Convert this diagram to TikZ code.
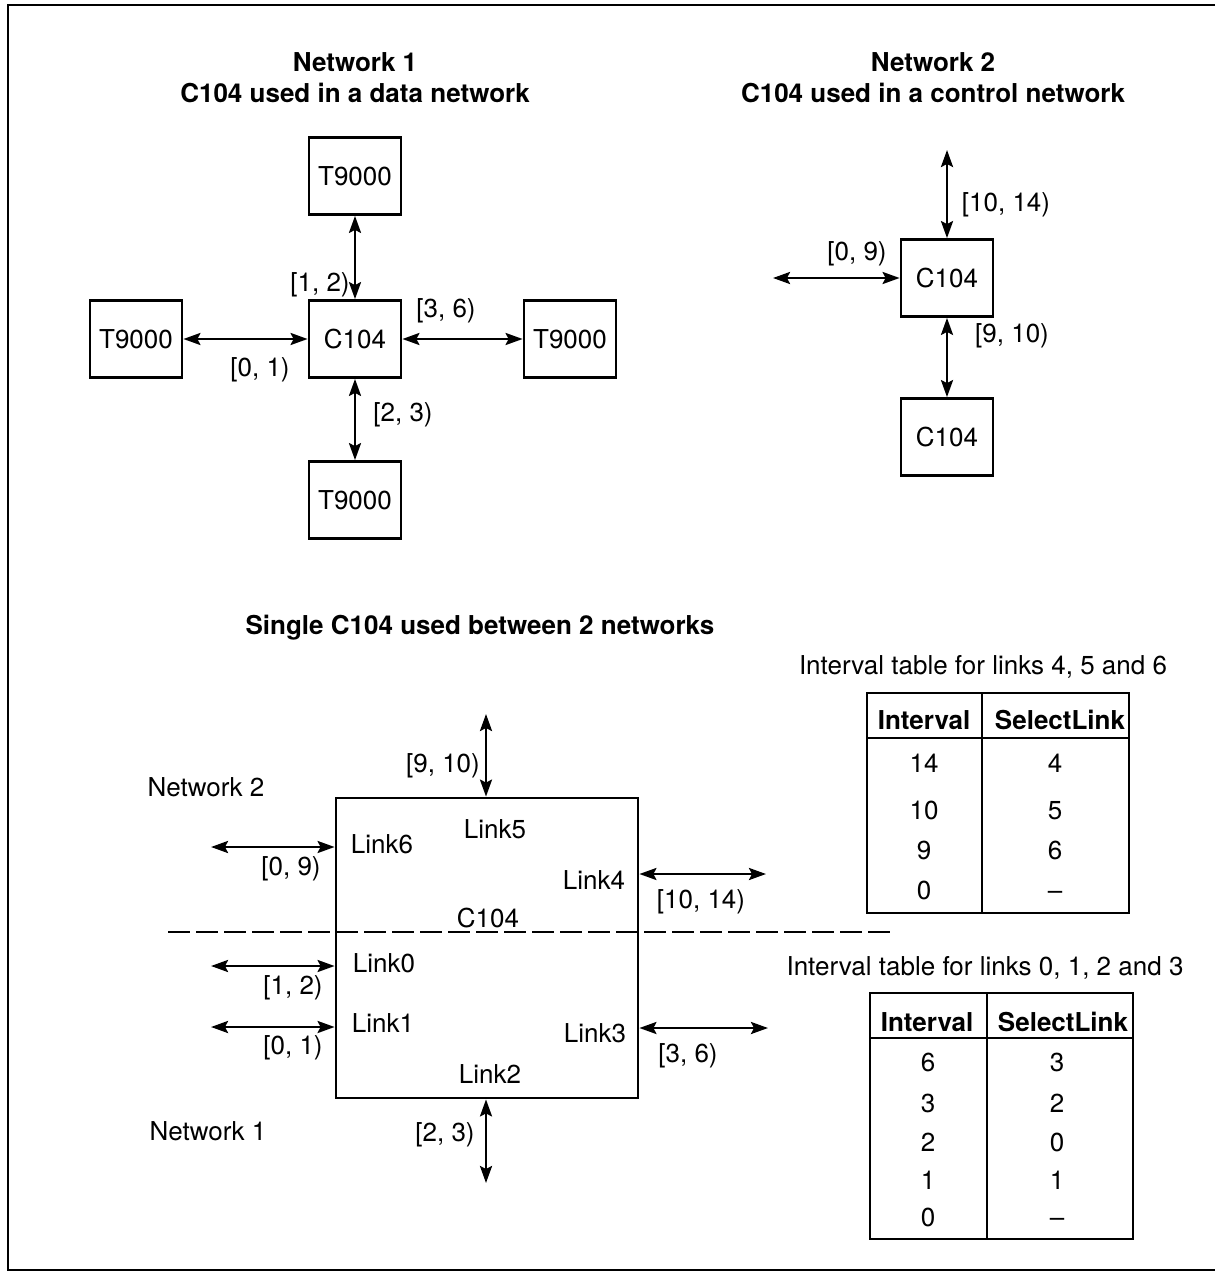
\documentclass[tikz,border=0pt]{standalone}
\usepackage{fontspec}
\setmainfont{TeX Gyre Heros}
\usetikzlibrary{arrows.meta,positioning}
\tikzset{
  unitbox/.style={draw, line width=2.8pt, minimum width=92pt, minimum height=77pt,
                  inner sep=0pt},
  link/.style={{Stealth[length=17pt,width=12pt,inset=3pt]}-{Stealth[length=17pt,width=12pt,inset=3pt]},
               line width=2.6pt},
  lbl/.style={inner sep=0pt},
  cell/.style={inner sep=0pt, text height=18.7pt, text depth=0pt},
  boldtxt/.style={font=\fontsize{26}{31}\selectfont\bfseries},
  ttl/.style={inner sep=0pt, boldtxt, align=center},
  tabrule/.style={line width=2.8pt}
}

\begin{document}
\begin{tikzpicture}[x=1pt,y=-1pt,font=\fontsize{26}{31}\selectfont]
  \useasboundingbox (0,0) rectangle (1215,1276);
  \draw[line width=2.8pt] (1215,5) -- (8,5) -- (8,1270) -- (1215,1270);

  % Network 1
  \node[ttl] (t1) at (355,78) {Network 1\\C104 used in a data network};
  \node[unitbox] (n1c) at (355,339) {C104};
  \node[unitbox] (n1n) at (355,176) {T9000};
  \node[unitbox] (n1s) at (355,500) {T9000};
  \node[unitbox] (n1w) at (136,339) {T9000};
  \node[unitbox] (n1e) at (570,339) {T9000};
  \draw[link] (n1n) -- (n1c);
  \draw[link] (n1c) -- (n1s);
  \draw[link] (n1w) -- (n1c);
  \draw[link] (n1c) -- (n1e);
  \node[lbl] (i12) at (320,285) {[1, 2)};
  \node[lbl] (i36) at (446,311) {[3, 6)};
  \node[lbl] (i01) at (260,370) {[0, 1)};
  \node[lbl] (i23) at (403,415) {[2, 3)};

  % Network 2
  \node[ttl] (t2) at (933,78) {Network 2\\C104 used in a control network};
  \node[unitbox] (n2a) at (947,278) {C104};
  \node[unitbox] (n2b) at (947,437) {C104};
  \coordinate (n2up) at (947,150);
  \coordinate (n2lt) at (773,278);
  \draw[link] (n2up) -- (n2a);
  \draw[link] (n2lt) -- (n2a);
  \draw[link] (n2a) -- (n2b);
  \node[lbl] (j1014) at (1006,205) {[10, 14)};
  \node[lbl] (j09) at (857,254) {[0, 9)};
  \node[lbl] (j910) at (1012,336) {[9, 10)};

  % single C104 between the two networks
  \node[ttl] (t3) at (480,628) {Single C104 used between 2 networks};
  \node[draw, line width=2.8pt, minimum width=302pt, minimum height=300pt,
        inner sep=0pt] (big) at (487,948) {};
  \draw[line width=2.6pt, dash pattern=on 22pt off 6pt] (168,932) -- (890,932);
  \node[lbl] (bc) at (488,918) {C104};
  \node[lbl] (net2) at (206,787) {Network 2};
  \node[lbl] (net1) at (208,1131) {Network 1};

  \coordinate (a6) at (211,847);
  \coordinate (a0) at (211,966);
  \coordinate (a1) at (211,1027);
  \coordinate (a4) at (766,874);
  \coordinate (a3) at (768,1028);
  \coordinate (a5) at (486,714);
  \coordinate (a2) at (486,1183);
  \draw[link] (a6) -- (a6 -| big.west);
  \draw[link] (a0) -- (a0 -| big.west);
  \draw[link] (a1) -- (a1 -| big.west);
  \draw[link] (a4 -| big.east) -- (a4);
  \draw[link] (a3 -| big.east) -- (a3);
  \draw[link] (a5) -- (a5 |- big.north);
  \draw[link] (a2 |- big.south) -- (a2);

  \node[lbl] (k6) at (382,844) {Link6};
  \node[lbl] (k5) at (495,829) {Link5};
  \node[lbl] (k4) at (594,880) {Link4};
  \node[lbl] (k0) at (384,963) {Link0};
  \node[lbl] (k1) at (383,1023) {Link1};
  \node[lbl] (k3) at (595,1033) {Link3};
  \node[lbl] (k2) at (490,1074) {Link2};

  \node[lbl] (b910) at (443,766) {[9, 10)};
  \node[lbl] (b09) at (291,869) {[0, 9)};
  \node[lbl] (b1014) at (701,902) {[10, 14)};
  \node[lbl] (b12) at (293,988) {[1, 2)};
  \node[lbl] (b01) at (293,1048) {[0, 1)};
  \node[lbl] (b36) at (688,1056) {[3, 6)};
  \node[lbl] (b23) at (445,1135) {[2, 3)};

  % interval table, links 4 5 6
  \node[lbl] (tta) at (983,667) {Interval table for links 4, 5 and 6};
  \draw[tabrule] (867,693) rectangle (1129,913);
  \draw[tabrule] (982,693) -- (982,913);
  \draw[tabrule] (867,738) -- (1129,738);
  \node[lbl, boldtxt] (ha1) at (924,720) {Interval};
  \node[lbl, boldtxt] (ha2) at (1060,720) {SelectLink};
  \foreach \iv/\sl/\yy [count=\r] in {14/4/763, 10/5/810, 9/6/850, 0/\textendash/890} {
    \node[cell] (ra\r) at (924,\yy) {\iv};
    \node[cell] (sa\r) at (1055,\yy) {\sl};
  }

  % interval table, links 0 1 2 3
  \node[lbl] (ttb) at (985,968) {Interval table for links 0, 1, 2 and 3};
  \draw[tabrule] (870,993) rectangle (1133,1239);
  \draw[tabrule] (987,993) -- (987,1239);
  \draw[tabrule] (870,1038) -- (1133,1038);
  \node[lbl, boldtxt] (hb1) at (927,1022) {Interval};
  \node[lbl, boldtxt] (hb2) at (1063,1022) {SelectLink};
  \foreach \iv/\sl/\yy [count=\r] in {6/3/1062, 3/2/1103, 2/0/1142, 1/1/1180, 0/\textendash/1217} {
    \node[cell] (rb\r) at (928,\yy) {\iv};
    \node[cell] (sb\r) at (1057,\yy) {\sl};
  }
\end{tikzpicture}
\end{document}
